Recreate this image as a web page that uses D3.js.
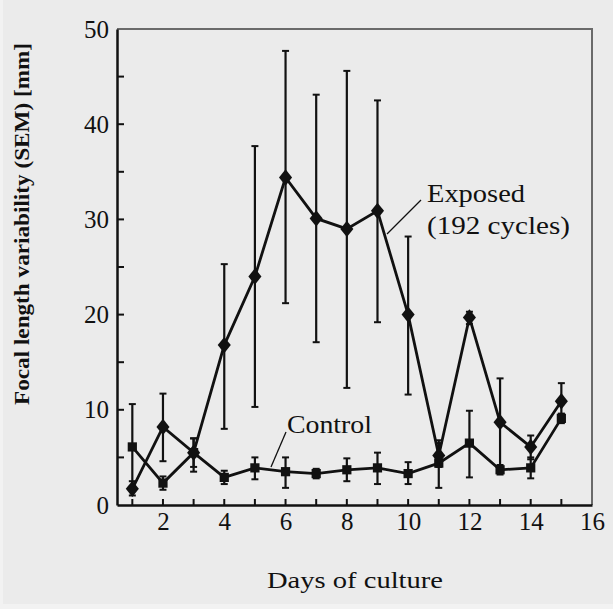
<!DOCTYPE html>
<html>
<head>
<meta charset="utf-8">
<script src="https://cdn.jsdelivr.net/npm/d3@7"></script>
<style>
  html, body { margin: 0; padding: 0; background: #f2f2f2; }
  #chart { width: 613px; height: 609px; }
  text { font-family: "Liberation Serif", "DejaVu Serif", serif; fill: #111; }
</style>
</head>
<body>
<div id="chart"></div>
<script>
// Days of culture
const days = [1, 2, 3, 4, 5, 6, 7, 8, 9, 10, 11, 12, 13, 14, 15];

// Exposed (192 cycles): mean and error bar ends
const exposed     = [1.7, 8.2, 5.5, 16.8, 24.0, 34.4, 30.1, 29.0, 30.9, 20.0, 5.2, 19.7, 8.7, 6.1, 10.9];
const exposedHigh = [2.5, 11.7, 7.0, 25.3, 37.7, 47.7, 43.1, 45.6, 42.5, 28.2, 6.5, 20.3, 13.3, 7.3, 12.8];
const exposedLow  = [1.0, 4.6, 4.0, 8.0, 10.3, 21.2, 17.1, 12.3, 19.2, 11.6, 4.0, 19.0, 4.0, 4.8, 9.5];

// Control: mean and error bar ends
const control     = [6.1, 2.3, 5.5, 2.9, 3.9, 3.5, 3.3, 3.7, 3.9, 3.3, 4.4, 6.5, 3.7, 3.9, 9.1];
const controlHigh = [10.6, 3.0, 7.0, 3.6, 5.0, 5.0, 3.8, 4.9, 5.5, 4.5, 6.8, 9.9, 4.2, 5.0, 9.6];
const controlLow  = [1.5, 1.6, 3.5, 2.2, 2.7, 1.8, 2.8, 2.5, 2.2, 2.2, 1.8, 2.9, 3.2, 2.8, 8.6];

const xTicks = [2, 4, 6, 8, 10, 12, 14, 16];
const xMinorTicks = days;
const yTicks = [0, 10, 20, 30, 40, 50];
const yMinorTicks = [5, 15, 25, 35, 45];

const W = 613, H = 609;
const margin = { top: 29, right: 21, bottom: 104, left: 117 };
const width = W - margin.left - margin.right;
const height = H - margin.top - margin.bottom;

const svg = d3.select("#chart").append("svg")
    .attr("width", W)
    .attr("height", H);

// background
svg.append("rect")
    .attr("x", 3).attr("y", 0)
    .attr("width", W - 3).attr("height", H - 5)
    .attr("fill", "#ebebeb");

const g = svg.append("g")
    .attr("transform", `translate(${margin.left},${margin.top})`);

const x = d3.scaleLinear().domain([0.5, 16]).range([0, width]);
const y = d3.scaleLinear().domain([0, 50]).range([height, 0]);

// frame top / right (grey)
g.append("path")
    .attr("d", `M0,0H${width}V${height}`)
    .attr("fill", "none")
    .attr("stroke", "#6a6a6a")
    .attr("stroke-width", 2);

// X axis
const xAxis = g.append("g")
    .attr("transform", `translate(0,${height})`)
    .call(d3.axisBottom(x).tickValues(xTicks).tickSize(0).tickPadding(7));
xAxis.selectAll(".tick text")
    .attr("font-size", "25px")
    .attr("font-family", "Liberation Serif");
xAxis.select(".domain").attr("stroke", "#111").attr("stroke-width", 2.5);

g.append("g")
    .selectAll("line")
    .data(xMinorTicks)
    .join("line")
    .attr("x1", d => x(d)).attr("x2", d => x(d))
    .attr("y1", height).attr("y2", height - 6)
    .attr("stroke", "#111")
    .attr("stroke-width", 2);

// Y axis
const yAxis = g.append("g")
    .call(d3.axisLeft(y).tickValues(yTicks).tickSize(0).tickPadding(8));
yAxis.selectAll(".tick text")
    .attr("font-size", "25px")
    .attr("font-family", "Liberation Serif");
yAxis.select(".domain").attr("stroke", "#111").attr("stroke-width", 2.5);

g.append("g")
    .selectAll("line")
    .data(yTicks.concat(yMinorTicks).filter(d => d > 0 && d < 50))
    .join("line")
    .attr("x1", 0).attr("x2", 7)
    .attr("y1", d => y(d)).attr("y2", d => y(d))
    .attr("stroke", "#111")
    .attr("stroke-width", 2);

// Axis titles
svg.append("text")
    .attr("transform", "translate(29,224) rotate(-90)")
    .attr("text-anchor", "middle")
    .attr("font-size", "22px")
    .attr("font-weight", "bold")
    .attr("textLength", 362)
    .attr("lengthAdjust", "spacingAndGlyphs")
    .text("Focal length variability (SEM) [mm]");

svg.append("text")
    .attr("x", 355)
    .attr("y", 588)
    .attr("text-anchor", "middle")
    .attr("font-size", "24px")
    .attr("textLength", 176)
    .attr("lengthAdjust", "spacingAndGlyphs")
    .text("Days of culture");

// Series
const series = [
    { name: "control", mean: control, high: controlHigh, low: controlLow, marker: "square" },
    { name: "exposed", mean: exposed, high: exposedHigh, low: exposedLow, marker: "diamond" }
];

const line = d3.line()
    .x(d => x(d.day))
    .y(d => y(d.value));

series.forEach(s => {
    const pts = days.map((d, i) => ({ day: d, value: s.mean[i], high: s.high[i], low: s.low[i] }));

    // error bars
    const eb = g.append("g").attr("class", "errorbars " + s.name);
    eb.selectAll("line.v")
        .data(pts)
        .join("line")
        .attr("class", "v")
        .attr("x1", d => x(d.day)).attr("x2", d => x(d.day))
        .attr("y1", d => y(d.high)).attr("y2", d => y(d.low))
        .attr("stroke", "#111")
        .attr("stroke-width", 2.2);
    eb.selectAll("line.cap-hi")
        .data(pts)
        .join("line")
        .attr("class", "cap-hi")
        .attr("x1", d => x(d.day) - 3.5).attr("x2", d => x(d.day) + 3.5)
        .attr("y1", d => y(d.high)).attr("y2", d => y(d.high))
        .attr("stroke", "#111")
        .attr("stroke-width", 2);
    eb.selectAll("line.cap-lo")
        .data(pts)
        .join("line")
        .attr("class", "cap-lo")
        .attr("x1", d => x(d.day) - 3.5).attr("x2", d => x(d.day) + 3.5)
        .attr("y1", d => y(d.low)).attr("y2", d => y(d.low))
        .attr("stroke", "#111")
        .attr("stroke-width", 2);

    // line
    g.append("path")
        .datum(pts)
        .attr("d", line)
        .attr("fill", "none")
        .attr("stroke", "#111")
        .attr("stroke-width", 2.8);

    // markers
    const sym = s.marker === "square"
        ? d3.symbol().type(d3.symbolSquare).size(85)
        : d3.symbol().type(d3.symbolDiamond).size(95);
    g.append("g")
        .selectAll("path")
        .data(pts)
        .join("path")
        .attr("transform", d => `translate(${x(d.day)},${y(d.value)})` + (s.marker === "diamond" ? " scale(1.25,0.9)" : ""))
        .attr("d", sym)
        .attr("fill", "#111");
});

// Annotations
g.append("line")
    .attr("x1", 421 - margin.left).attr("y1", 200 - margin.top)
    .attr("x2", 387 - margin.left).attr("y2", 234 - margin.top)
    .attr("stroke", "#111").attr("stroke-width", 1.3);
svg.append("text")
    .attr("x", 427).attr("y", 202)
    .attr("font-size", "25px")
    .attr("textLength", 98)
    .attr("lengthAdjust", "spacingAndGlyphs")
    .text("Exposed");
svg.append("text")
    .attr("x", 427).attr("y", 234)
    .attr("font-size", "25px")
    .attr("textLength", 143)
    .attr("lengthAdjust", "spacingAndGlyphs")
    .text("(192 cycles)");

g.append("line")
    .attr("x1", 286 - margin.left).attr("y1", 432 - margin.top)
    .attr("x2", 271 - margin.left).attr("y2", 467 - margin.top)
    .attr("stroke", "#111").attr("stroke-width", 1.3);
svg.append("text")
    .attr("x", 287).attr("y", 433)
    .attr("font-size", "25px")
    .attr("textLength", 85)
    .attr("lengthAdjust", "spacingAndGlyphs")
    .text("Control");
</script>
</body>
</html>
